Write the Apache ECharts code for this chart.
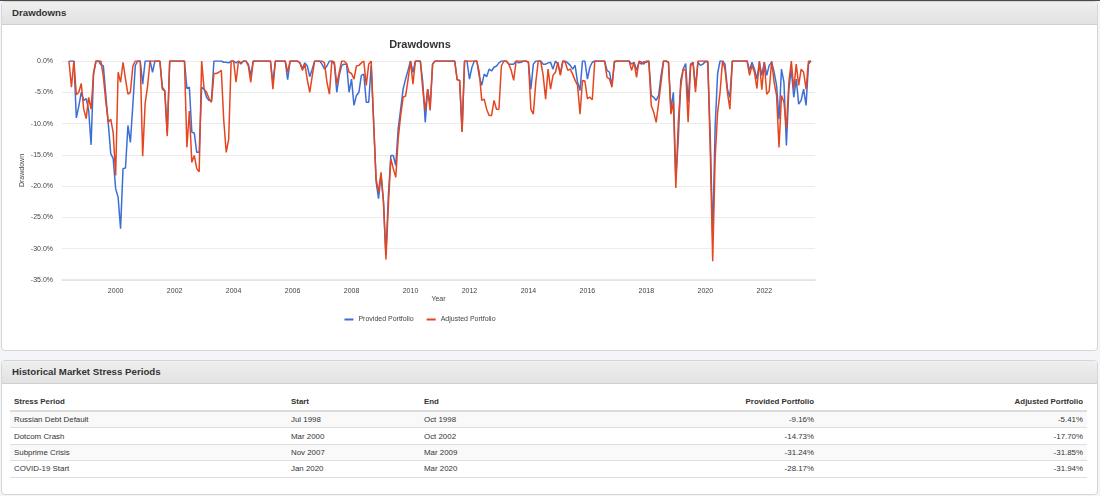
<!DOCTYPE html>
<html>
<head>
<meta charset="utf-8">
<script src="https://cdn.jsdelivr.net/npm/echarts@6/dist/echarts.min.js"></script>
<style>
  html, body { margin:0; padding:0; }
  body { width:1100px; height:496px; overflow:hidden; position:relative; background:#f4f5f8;
         font-family:"Liberation Sans", Arial, Helvetica, sans-serif; }
  .topline { position:absolute; left:0; top:0; width:1100px; height:1px; background:#4a4a4a; }
  .panel { position:absolute; left:1px; width:1097px; background:#fff; border:1px solid #d6d6d6;
           border-radius:4px; box-sizing:border-box; overflow:hidden; }
  #p1 { top:1px; height:350px; }
  #p2 { top:360px; height:135px; }
  .hdr { height:22px; line-height:22px; background:linear-gradient(#efefef,#e2e2e2);
         border-bottom:1px solid #cfcfcf; font-weight:bold; font-size:9.7px; color:#333; padding-left:10px; }
  #chart { position:absolute; left:2px; top:24px; width:836px; height:326px; }
  #tbl { position:absolute; left:10px; top:393px; width:1077px; border-collapse:collapse; table-layout:fixed;
         font-size:7.9px; color:#333; }
  #tbl th { font-weight:bold; text-align:left; height:17px; padding:0 4px; border-bottom:2px solid #dcdcdc; }
  #tbl td { height:15.4px; padding:0 4px; border-top:1px solid #dedede; }
  #tbl tbody tr:last-child td { border-bottom:1px solid #dedede; }
  #tbl tbody tr:nth-child(odd) td { background:#f9f9f9; }
  #tbl .r { text-align:right; }
</style>
</head>
<body>
<div class="topline"></div>
<div class="panel" id="p1"><div class="hdr">Drawdowns</div></div>
<div class="panel" id="p2"><div class="hdr">Historical Market Stress Periods</div></div>
<div id="chart"></div>
<table id="tbl">
  <colgroup><col style="width:277px"><col style="width:133px"><col style="width:133px"><col style="width:265px"><col style="width:269px"></colgroup>
  <thead><tr><th>Stress Period</th><th>Start</th><th>End</th><th class="r">Provided Portfolio</th><th class="r">Adjusted Portfolio</th></tr></thead>
  <tbody id="tb"></tbody>
</table>
<script>
// ---- chart data: monthly drawdowns (%), month-end, starting May 1998 ----
const firstYear = 1998;
const firstMonth = 5; // May
const provided = [
  0, 0, 0, -9.1, -7.2, -5.0, -6.3, -6.0,                                   // 1998 May-Dec
  -7.8, -13.4, -2.0, 0, 0, -0.6, -0.8, -5.5, -10.0, -14.8, -15.6, -20.4,   // 1999
  -21.8, -26.8, -17.2, -17.1, -10.3, -13.0, -7.0, -0.7, 0, 0, -3.7, 0,     // 2000
  0, 0, -1.8, 0, 0, 0, -4.2, -4.8, -11.5, 0, 0, 0,                         // 2001
  0, 0, 0, 0, -4.4, -4.2, -11.4, -11.5, -14.6, -14.6, -4.2, -4.5,          // 2002
  -5.8, -6.3, -6.3, 0, 0, 0, 0, -0.2, -0.2, -0.3, 0, 0,                    // 2003
  -0.3, 0, -0.5, 0, 0, -0.5, -2.3, 0, 0, 0, 0, 0,                          // 2004
  0, 0, 0, -3.5, 0, 0, 0, 0, 0, -3.0, 0, 0,                                // 2005
  0, 0, -0.3, -1.2, -0.3, -0.8, -2.5, -1.3, 0, 0, 0, -0.5,                 // 2006
  -1.3, -0.8, 0, 0, -0.5, -5.0, -2.3, -0.7, -0.5, -0.5, -5.0, -2.9,        // 2007
  -7.1, -5.5, -5.0, -2.3, -2.1, -6.6, -6.6, -0.7, -9.8, -19.3, -22.0, -18.2, // 2008
  -22.5, -31.0, -21.5, -15.1, -15.1, -16.7, -10.8, -7.7, -4.5, -2.9, -1.5, 0, // 2009
  -1.8, 0, 0, 0, -3.4, -9.8, -4.5, -7.1, -0.5, 0, 0, 0,                    // 2010
  0, 0, 0, 0, 0, 0, -3.0, -3.1, -11.3, 0, 0, -2.9,                         // 2011
  -1.0, 0, 0, -2.5, -3.9, -2.1, -2.5, -1.3, -1.6, -1.0, -0.8, -0.3,        // 2012
  0, 0, 0, -0.5, -0.5, -0.5, 0, -0.3, -0.2, 0, 0, -0.2,                    // 2013
  -4.5, -0.5, 0, 0, 0, -0.5, -0.5, -0.3, -0.2, -1.3, 0, -0.5,              // 2014
  -2.0, 0, 0, -0.3, -0.7, -1.3, -0.7, -3.4, -4.7, 0, 0, -2.9,              // 2015
  -1.0, -0.2, 0, 0, 0, 0, 0, -1.5, -1.8, -3.9, -0.2, 0,                    // 2016
  0, 0, 0, 0, 0, -0.5, -0.2, -1.5, -0.2, -0.5, -0.1, -0.2,                 // 2017
  0, -5.5, -5.8, -6.3, -5.5, -2.3, 0, 0, -0.2, -7.7, -5.0, -19.0,          // 2018
  -12.5, -3.1, -1.3, -0.4, -6.6, -0.5, -0.2, -4.2, -0.2, -0.7, -0.5, -0.1, // 2019
  -0.2, -12.0, -28.2, -10.5, -2.0, 0, 0, -0.5, -4.5, -5.8, 0, 0,           // 2020
  0, 0, 0, 0, 0, -1.5, -0.2, -1.3, -2.9, -0.2, -2.3, -0.2,                 // 2021
  -2.3, -0.7, -0.2, -1.8, -3.9, -9.3, -1.3, -3.4, -13.5, -4.5, -1.3, -5.8, // 2022
  -2.9, -6.9, -6.3, -4.5, -7.1, -0.5, 0                                    // 2023 Jan-Jul
];
const adjusted = [
  0, -4.2, 0, -5.4, -5.0, -3.6, -7.7, -9.2,                                // 1998 May-Dec
  -5.8, -7.7, -2.0, 0, 0, 0, -2.5, -6.5, -9.8, -9.3, -11.5, -18.3,         // 1999
  -1.8, -3.4, -0.2, -2.9, -5.3, -5.0, -0.8, 0, 0, 0, -15.2, -6.8,          // 2000
  -4.0, 0, 0, 0, 0, 0, -4.5, -4.8, -12.0, 0, 0, 0,                         // 2001
  0, 0, 0, 0, -13.8, -8.0, -16.2, -15.1, -17.2, -17.7, 0, -4.5,            // 2002
  -5.0, -6.0, -6.6, -2.0, -2.0, -1.8, -1.5, -9.5, -14.6, -12.5, 0, 0,      // 2003
  -3.4, 0, -0.3, 0, 0, -0.8, -3.4, 0, 0, 0, 0, 0,                          // 2004
  0, 0, 0, -4.5, 0, 0, 0, 0, 0, -1.8, 0, 0,                                // 2005
  0, 0, -0.3, -1.5, -0.5, -3.0, -5.0, -2.4, 0, 0, 0, 0,                    // 2006
  -0.3, -3.4, -5.3, 0, -0.2, -3.7, -1.8, 0, 0, -0.4, -1.8, -2.0,           // 2007
  -2.9, -0.8, -0.7, -0.3, 0, -3.9, -0.5, 0, -9.8, -18.8, -21.0, -17.8,     // 2008
  -22.5, -31.7, -23.0, -15.6, -17.2, -18.6, -12.4, -8.7, -5.8, -5.6, -3.0, 0, // 2009
  -3.7, 0, 0, 0, -4.5, -7.9, -4.5, -7.9, -0.5, 0, 0, 0,                    // 2010
  0, 0, 0, 0, 0, 0, -3.0, -3.1, -11.3, 0, 0, 0,                            // 2011
  0, 0, 0, -1.8, -6.3, -6.1, -7.7, -8.7, -8.7, -6.3, -7.7, -7.7,           // 2012
  -0.8, 0, 0, -0.5, -1.5, -3.1, 0, 0, 0, 0, 0, -0.2,                       // 2013
  -7.7, -8.5, -3.4, 0, 0, -2.3, -6.1, -1.3, -4.5, -2.3, -1.8, -0.2,        // 2014
  -2.3, 0, -0.2, -1.5, -1.3, -2.1, -3.1, -3.9, -8.5, -3.1, -3.2, -6.0,     // 2015
  -5.8, -6.2, 0, 0, 0, 0, 0, -2.6, -2.9, -4.2, 0, 0,                       // 2016
  0, 0, 0, 0, 0, -1.5, -0.2, -2.6, 0, -0.2, -0.5, 0,                       // 2017
  0, -7.1, -8.2, -9.8, -6.6, -3.4, 0, 0, -0.2, -8.5, -6.6, -20.3,          // 2018
  -9.8, -4.0, -1.3, -1.5, -9.8, -0.8, -0.2, -5.0, 0, 0, 0, 0,              // 2019
  0, -14.0, -32.0, -15.5, -8.2, -5.0, 0, -1.3, -5.0, -7.7, 0, 0,           // 2020
  0, 0, 0, 0, 0, -2.3, -0.7, -1.8, -4.4, 0, -4.6, -0.2,                    // 2021
  -5.3, -4.8, 0, -3.4, -5.5, -13.8, -5.5, -6.6, -10.8, -3.4, 0, -4.5,      // 2022
  -0.5, -3.9, -1.3, -1.8, -4.5, 0, 0                                       // 2023 Jan-Jul
];
const yearTicks = [2000, 2002, 2004, 2006, 2008, 2010, 2012, 2014, 2016, 2018, 2020, 2022];
const seriesNames = ['Provided Portfolio', 'Adjusted Portfolio'];

// ---- table data ----
const stressPeriods = ['Russian Debt Default', 'Dotcom Crash', 'Subprime Crisis', 'COVID-19 Start'];
const stressStart = ['Jul 1998', 'Mar 2000', 'Nov 2007', 'Jan 2020'];
const stressEnd = ['Oct 1998', 'Oct 2002', 'Mar 2009', 'Mar 2020'];
const stressProvided = ['-9.16%', '-14.73%', '-31.24%', '-28.17%'];
const stressAdjusted = ['-5.41%', '-17.70%', '-31.85%', '-31.94%'];

// month-end dates as decimal years
function monthEnd(i) {
  const t = firstYear * 12 + (firstMonth - 1) + i;
  const y = Math.floor(t / 12), m = t % 12 + 1;
  return y + m / 12;
}
const provData = provided.map((v, i) => [monthEnd(i), v]);
const adjData = adjusted.map((v, i) => [monthEnd(i), v]);

const FONT = '"Liberation Sans", Arial, sans-serif';
const chart = echarts.init(document.getElementById('chart'), null, { renderer: 'canvas' });
chart.setOption({
  animation: false,
  textStyle: { fontFamily: FONT },
  title: {
    text: 'Drawdowns', left: 'center', top: 10,
    textStyle: { fontSize: 11, fontWeight: 'bold', color: '#333', fontFamily: FONT }
  },
  legend: {
    data: seriesNames, left: 'center', top: 287, icon: 'rect', itemWidth: 9, itemHeight: 2,
    itemGap: 13, textStyle: { fontSize: 7, color: '#444', fontFamily: FONT }
  },
  grid: { left: 60, right: 23, top: 37, bottom: 70, containLabel: false },
  xAxis: {
    type: 'value', min: 1998.18, max: 2023.72,
    name: 'Year', nameLocation: 'middle', nameGap: 16, nameMoveOverlap: false,
    nameTextStyle: { fontSize: 7, color: '#444', fontFamily: FONT },
    axisLine: { onZero: false, lineStyle: { color: '#dde2ea', width: 1.5 } },
    axisTick: { show: false },
    splitLine: { show: false },
    axisLabel: { customValues: yearTicks, formatter: v => String(v), fontSize: 7, color: '#444', margin: 8, fontFamily: FONT }
  },
  yAxis: {
    type: 'value', min: -35, max: 0, interval: 5,
    name: 'Drawdown', nameLocation: 'middle', nameRotate: 90, nameGap: 36, nameMoveOverlap: false,
    nameTextStyle: { fontSize: 7, color: '#444', fontFamily: FONT },
    axisLine: { show: false }, axisTick: { show: false },
    splitLine: { lineStyle: { color: '#ececec', width: 1 } },
    axisLabel: { formatter: v => (Math.abs(v) < 1e-9 ? 0 : v).toFixed(1) + '%', fontSize: 7, color: '#444', margin: 9, fontFamily: FONT }
  },
  series: [
    { name: seriesNames[0], type: 'line', data: provData, showSymbol: false, symbol: 'none',
      lineStyle: { color: '#3b6fd6', width: 1.5 }, itemStyle: { color: '#3b6fd6' }, z: 2 },
    { name: seriesNames[1], type: 'line', data: adjData, showSymbol: false, symbol: 'none',
      lineStyle: { color: '#e5461f', width: 1.5 }, itemStyle: { color: '#e5461f' }, z: 3 }
  ]
});

// table rows
const tb = document.getElementById('tb');
stressPeriods.forEach((p, i) => {
  const tr = document.createElement('tr');
  [[p, ''], [stressStart[i], ''], [stressEnd[i], ''], [stressProvided[i], 'r'], [stressAdjusted[i], 'r']].forEach(([t, c]) => {
    const td = document.createElement('td');
    td.textContent = t;
    if (c) td.className = c;
    tr.appendChild(td);
  });
  tb.appendChild(tr);
});
</script>
</body>
</html>
